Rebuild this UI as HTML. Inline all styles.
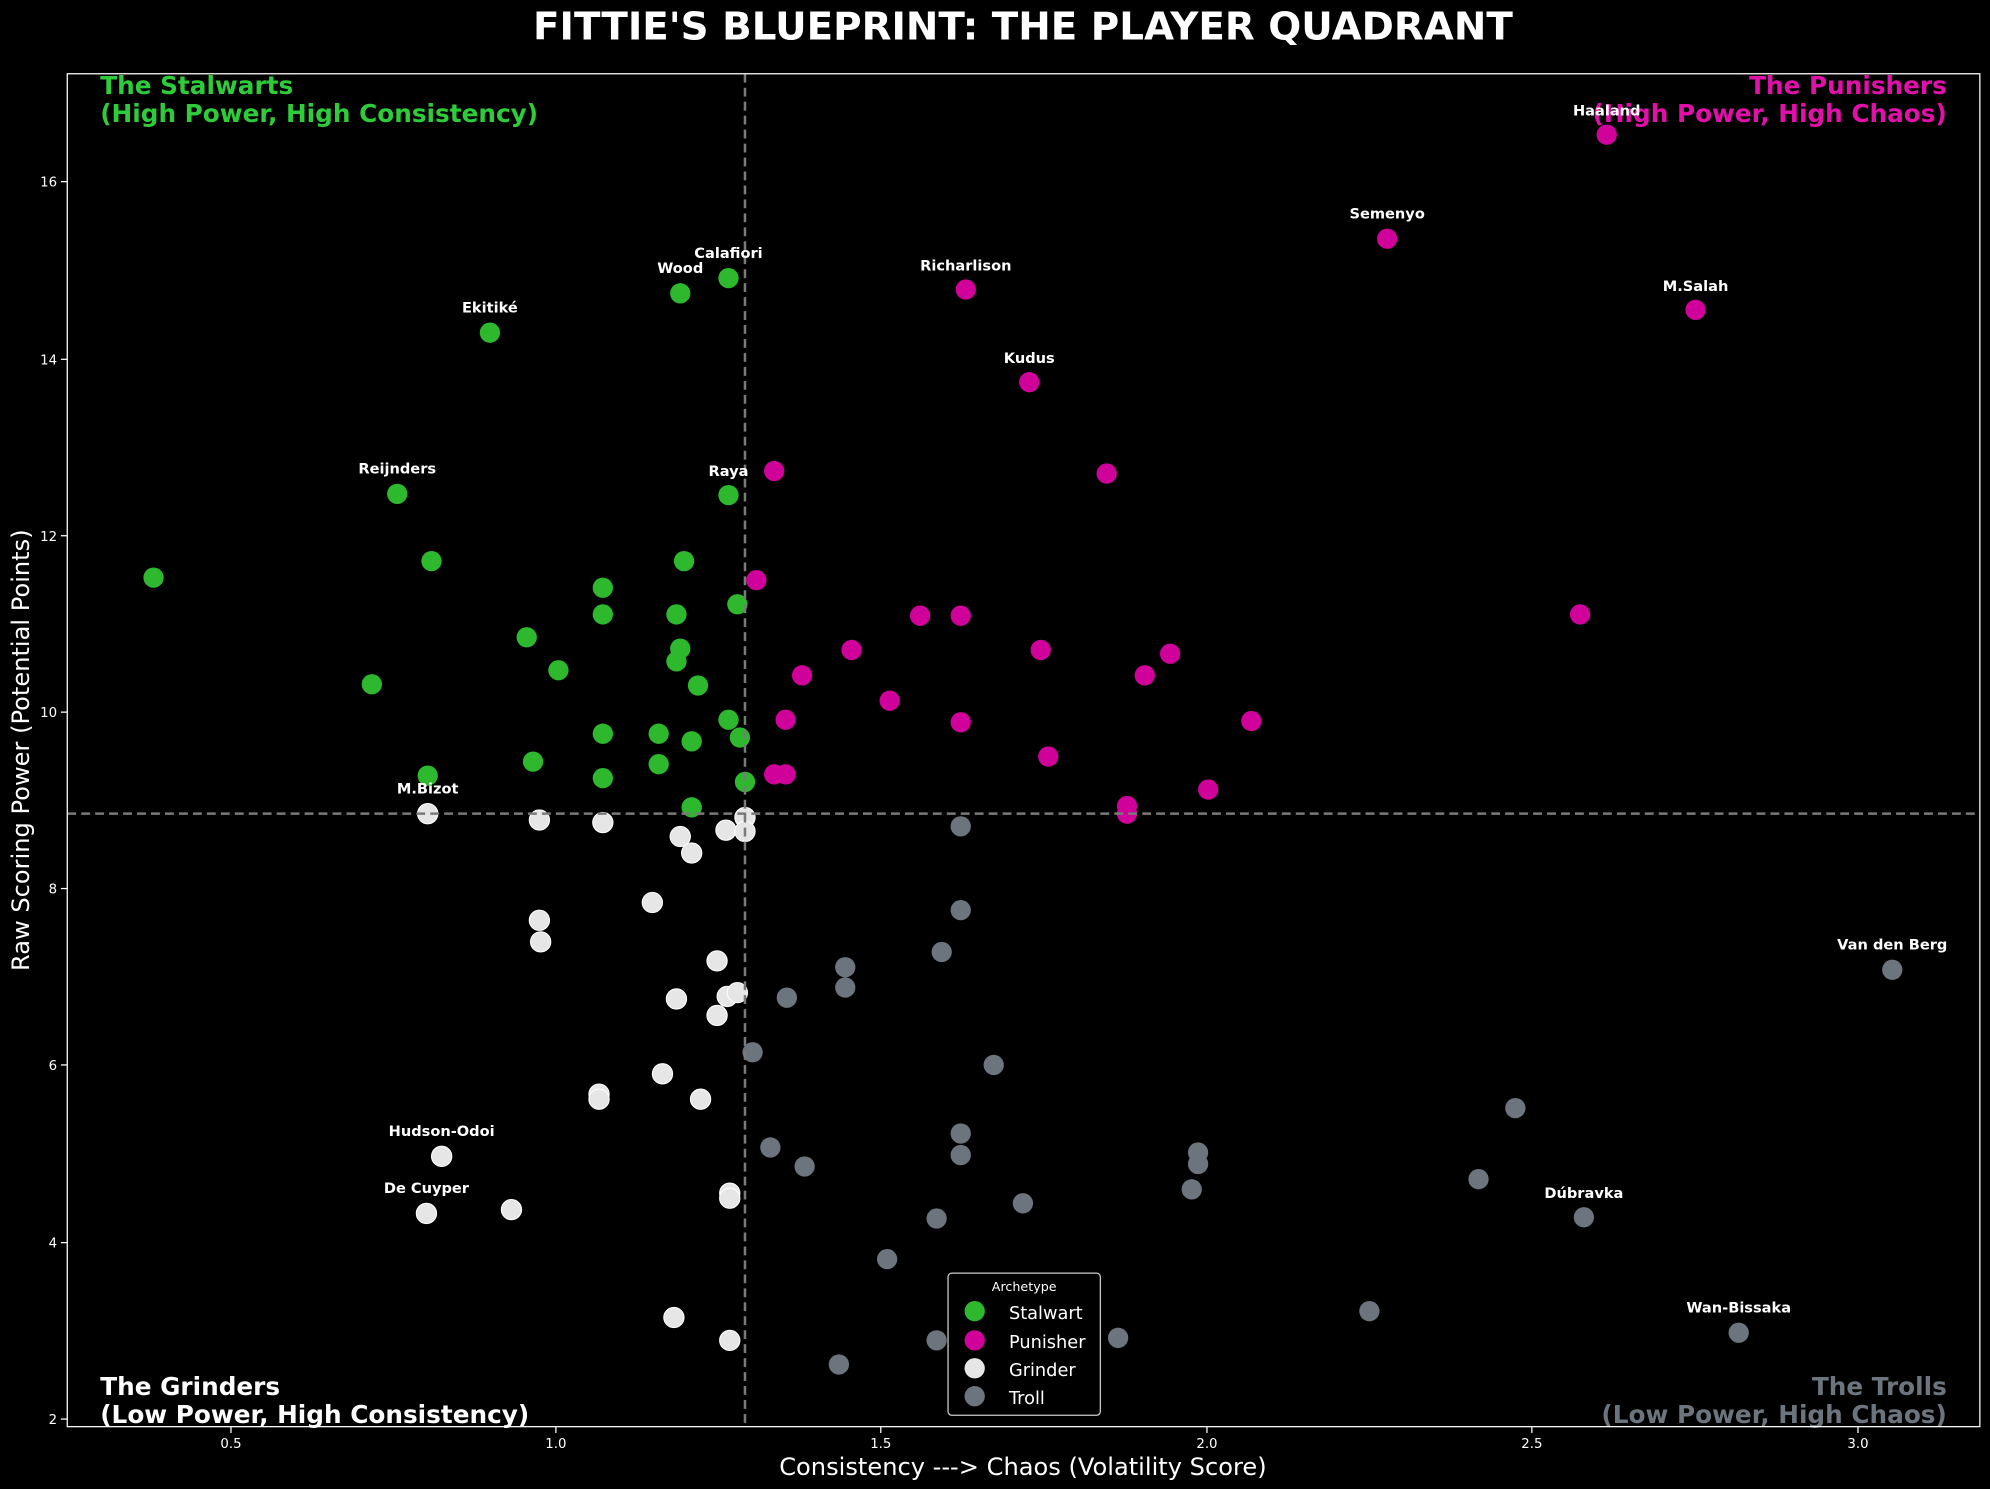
<!DOCTYPE html>
<html><head><meta charset="utf-8"><style>
html,body{margin:0;padding:0;background:#000;}
svg{display:block;}
text{font-family:"DejaVu Sans","Liberation Sans",sans-serif;}
</style></head><body>
<svg width="1990" height="1489" viewBox="0 0 1568 1173" xmlns="http://www.w3.org/2000/svg">
<rect width="1568" height="1173" fill="#000"/>
<text x="806" y="31" text-anchor="middle" fill="#fff" font-size="30" font-weight="bold" textLength="772" lengthAdjust="spacingAndGlyphs">FITTIE'S BLUEPRINT: THE PLAYER QUADRANT</text>

<g font-size="19.5" font-weight="bold">
<text x="79" y="74" fill="#2ecc3a">The Stalwarts</text>
<text x="79" y="96" fill="#2ecc3a">(High Power, High Consistency)</text>
<text x="1534" y="74" fill="#e010a8" text-anchor="end">The Punishers</text>
<text x="1534" y="96" fill="#e010a8" text-anchor="end">(High Power, High Chaos)</text>
<text x="79" y="1099" fill="#fff">The Grinders</text>
<text x="79" y="1121" fill="#fff">(Low Power, High Consistency)</text>
<text x="1534" y="1099" fill="#6c757d" text-anchor="end">The Trolls</text>
<text x="1534" y="1121" fill="#6c757d" text-anchor="end">(Low Power, High Chaos)</text>
</g>

<g fill="#2db82d">
<circle cx="121" cy="455" r="8"/><circle cx="313" cy="389" r="8"/><circle cx="386" cy="262" r="8"/><circle cx="536" cy="231" r="8"/><circle cx="574" cy="219" r="8"/><circle cx="340" cy="442" r="8"/><circle cx="293" cy="539" r="8"/><circle cx="415" cy="502" r="8"/><circle cx="440" cy="528" r="8"/><circle cx="475" cy="463" r="8"/><circle cx="475" cy="484" r="8"/><circle cx="533" cy="484" r="8"/><circle cx="533" cy="521" r="8"/><circle cx="536" cy="511" r="8"/><circle cx="539" cy="442" r="8"/><circle cx="574" cy="390" r="8"/><circle cx="581" cy="476" r="8"/><circle cx="550" cy="540" r="8"/><circle cx="475" cy="578" r="8"/><circle cx="519" cy="578" r="8"/><circle cx="545" cy="584" r="8"/><circle cx="574" cy="567" r="8"/><circle cx="583" cy="581" r="8"/><circle cx="420" cy="600" r="8"/><circle cx="337" cy="611" r="8"/><circle cx="475" cy="613" r="8"/><circle cx="519" cy="602" r="8"/><circle cx="587" cy="616" r="8"/><circle cx="545" cy="636" r="8"/>
</g>
<g fill="#d0009a">
<circle cx="1266" cy="106" r="8"/><circle cx="1093" cy="188" r="8"/><circle cx="1336" cy="244" r="8"/><circle cx="761" cy="228" r="8"/><circle cx="811" cy="301" r="8"/><circle cx="610" cy="371" r="8"/><circle cx="872" cy="373" r="8"/><circle cx="596" cy="457" r="8"/><circle cx="725" cy="485" r="8"/><circle cx="757" cy="485" r="8"/><circle cx="1245" cy="484" r="8"/><circle cx="671" cy="512" r="8"/><circle cx="820" cy="512" r="8"/><circle cx="922" cy="515" r="8"/><circle cx="632" cy="532" r="8"/><circle cx="902" cy="532" r="8"/><circle cx="701" cy="552" r="8"/><circle cx="619" cy="567" r="8"/><circle cx="757" cy="569" r="8"/><circle cx="986" cy="568" r="8"/><circle cx="826" cy="596" r="8"/><circle cx="610" cy="610" r="8"/><circle cx="619" cy="610" r="8"/><circle cx="952" cy="622" r="8"/><circle cx="888" cy="635" r="8"/><circle cx="888" cy="641" r="8"/>
</g>
<g fill="#e6e6e6" stroke="#fff" stroke-width="0.8">
<circle cx="337" cy="641" r="8"/><circle cx="425" cy="646" r="8"/><circle cx="475" cy="648" r="8"/><circle cx="587" cy="644" r="8"/><circle cx="572" cy="654" r="8"/><circle cx="587" cy="655" r="8"/><circle cx="536" cy="659" r="8"/><circle cx="545" cy="672" r="8"/><circle cx="514" cy="711" r="8"/><circle cx="425" cy="725" r="8"/><circle cx="426" cy="742" r="8"/><circle cx="565" cy="757" r="8"/><circle cx="573" cy="785" r="8"/><circle cx="581" cy="782" r="8"/><circle cx="533" cy="787" r="8"/><circle cx="565" cy="800" r="8"/><circle cx="472" cy="862" r="8"/><circle cx="472" cy="866" r="8"/><circle cx="522" cy="846" r="8"/><circle cx="552" cy="866" r="8"/><circle cx="348" cy="911" r="8"/><circle cx="403" cy="953" r="8"/><circle cx="336" cy="956" r="8"/><circle cx="575" cy="940" r="8"/><circle cx="575" cy="944" r="8"/><circle cx="531" cy="1038" r="8"/><circle cx="575" cy="1056" r="8"/>
</g>
<g fill="#6c757d">
<circle cx="757" cy="651" r="8"/><circle cx="757" cy="717" r="8"/><circle cx="742" cy="750" r="8"/><circle cx="666" cy="762" r="8"/><circle cx="666" cy="778" r="8"/><circle cx="620" cy="786" r="8"/><circle cx="593" cy="829" r="8"/><circle cx="783" cy="839" r="8"/><circle cx="1194" cy="873" r="8"/><circle cx="757" cy="893" r="8"/><circle cx="607" cy="904" r="8"/><circle cx="944" cy="908" r="8"/><circle cx="634" cy="919" r="8"/><circle cx="757" cy="910" r="8"/><circle cx="944" cy="917" r="8"/><circle cx="939" cy="937" r="8"/><circle cx="1165" cy="929" r="8"/><circle cx="806" cy="948" r="8"/><circle cx="738" cy="960" r="8"/><circle cx="1248" cy="959" r="8"/><circle cx="699" cy="992" r="8"/><circle cx="1079" cy="1033" r="8"/><circle cx="738" cy="1056" r="8"/><circle cx="881" cy="1054" r="8"/><circle cx="661" cy="1075" r="8"/><circle cx="1370" cy="1050" r="8"/><circle cx="1491" cy="764" r="8"/>
</g>

<g stroke="#7a7a7a" stroke-width="2" stroke-dasharray="7,4" fill="none">
<line x1="587" y1="58" x2="587" y2="1124"/>
<line x1="53" y1="641" x2="1560" y2="641"/>
</g>

<g fill="#fff" font-size="11.5" font-weight="bold" text-anchor="middle">
<text x="1266" y="91">Haaland</text>
<text x="1093" y="172">Semenyo</text>
<text x="1336" y="229">M.Salah</text>
<text x="761" y="213">Richarlison</text>
<text x="811" y="286">Kudus</text>
<text x="574" y="203">Calafiori</text>
<text x="536" y="215">Wood</text>
<text x="386" y="246">Ekitiké</text>
<text x="313" y="373">Reijnders</text>
<text x="574" y="375">Raya</text>
<text x="337" y="625">M.Bizot</text>
<text x="348" y="895">Hudson-Odoi</text>
<text x="336" y="940">De Cuyper</text>
<text x="1491" y="748">Van den Berg</text>
<text x="1248" y="944">Dúbravka</text>
<text x="1370" y="1034">Wan-Bissaka</text>
</g>

<rect x="53" y="58" width="1507" height="1066" fill="none" stroke="#fff" stroke-width="1"/>

<g stroke="#fff" stroke-width="1">
<line x1="182" y1="1124" x2="182" y2="1129"/><line x1="438" y1="1124" x2="438" y2="1129"/><line x1="694" y1="1124" x2="694" y2="1129"/><line x1="951" y1="1124" x2="951" y2="1129"/><line x1="1207" y1="1124" x2="1207" y2="1129"/><line x1="1464" y1="1124" x2="1464" y2="1129"/>
<line x1="48" y1="143" x2="53" y2="143"/><line x1="48" y1="283" x2="53" y2="283"/><line x1="48" y1="422" x2="53" y2="422"/><line x1="48" y1="561" x2="53" y2="561"/><line x1="48" y1="700" x2="53" y2="700"/><line x1="48" y1="839" x2="53" y2="839"/><line x1="48" y1="979" x2="53" y2="979"/><line x1="48" y1="1118" x2="53" y2="1118"/>
</g>
<g fill="#fff" font-size="10.5" text-anchor="middle">
<text x="182" y="1141">0.5</text><text x="438" y="1141">1.0</text><text x="694" y="1141">1.5</text><text x="951" y="1141">2.0</text><text x="1207" y="1141">2.5</text><text x="1464" y="1141">3.0</text>
</g>
<g fill="#fff" font-size="10.5" text-anchor="end">
<text x="45" y="147">16</text><text x="45" y="287">14</text><text x="45" y="426">12</text><text x="45" y="565">10</text><text x="45" y="704">8</text><text x="45" y="843">6</text><text x="45" y="983">4</text><text x="45" y="1122">2</text>
</g>
<text x="806" y="1162" fill="#fff" font-size="19" text-anchor="middle">Consistency ---&gt; Chaos (Volatility Score)</text>
<text transform="translate(23,591) rotate(-90)" fill="#fff" font-size="19" text-anchor="middle">Raw Scoring Power (Potential Points)</text>

<rect x="747" y="1003" width="120" height="112" rx="3" fill="#000" stroke="#ccc" stroke-width="1"/>
<text x="807" y="1017" fill="#fff" font-size="10" text-anchor="middle">Archetype</text>
<circle cx="768" cy="1033" r="8" fill="#2db82d"/><text x="795" y="1039" fill="#fff" font-size="14">Stalwart</text>
<circle cx="768" cy="1056" r="8" fill="#d0009a"/><text x="795" y="1062" fill="#fff" font-size="14">Punisher</text>
<circle cx="768" cy="1078" r="8" fill="#e6e6e6"/><text x="795" y="1084" fill="#fff" font-size="14">Grinder</text>
<circle cx="768" cy="1100" r="8" fill="#6c757d"/><text x="795" y="1106" fill="#fff" font-size="14">Troll</text>
</svg>
</body></html>
